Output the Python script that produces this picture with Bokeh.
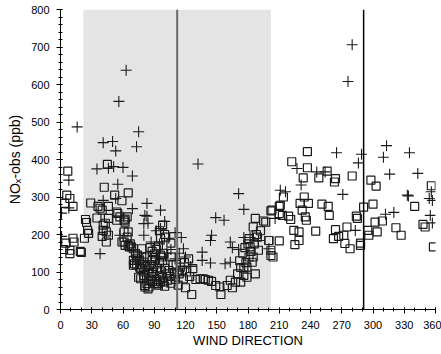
from bokeh.plotting import figure
from bokeh.models import BoxAnnotation, Span, SingleIntervalTicker
from bokeh.embed import file_html
from bokeh.resources import INLINE

# Sector limits (degrees) and reference directions
sector_start = 22
sector_end = 202
ref_dir_a = 112
ref_dir_b = 291

# Series 1 (open squares): wind direction (deg), NOx (ppb)
sq_dir = [3, 5, 9, 9, 12, 13, 19, 20, 4, 6, 9, 12, 7,
          23, 25, 26, 27, 24, 29, 36, 38, 42, 45, 46, 52, 59, 65, 54, 40, 35, 46, 55, 57,
          41, 41, 40, 44, 44, 46, 43, 54, 61, 62, 62, 64, 61, 65, 64, 59, 61, 62, 65, 67,
          66, 68, 70, 72, 73, 70, 71, 73, 70, 76, 77, 75, 77, 80, 80, 81, 81, 83, 85, 84,
          86, 78, 78, 80, 83, 88, 88,
          85, 87, 88, 90, 92, 94, 95, 96, 97, 98, 100, 100, 102, 103, 105, 106, 108, 109,
          110, 112, 113, 86, 89, 91, 93, 95, 97, 99, 84, 82, 80, 78, 76, 74, 86, 88, 90,
          92, 94, 96, 98,
          91, 89, 93, 99, 104, 101, 106, 107, 115, 118, 120, 126, 123, 127, 134, 137, 142,
          149, 154, 153, 160, 165, 163, 168, 173, 173, 176, 179, 181, 179, 185, 182, 181,
          185, 187, 195, 203, 200, 202, 189, 190, 184, 187,
          111, 114, 117, 119, 121, 124, 130, 139, 145, 170, 172, 175, 177, 180, 183, 186,
          188, 192, 178, 176, 95, 98, 100, 96,
          202, 210, 213, 219, 197, 221, 211, 214, 210, 222, 224, 229, 225, 229, 210, 200,
          202, 204, 230, 232, 235, 236, 233, 234, 237, 237, 238, 245, 248, 251, 256, 257,
          258, 262, 263, 264, 264, 267, 272, 273, 275, 278, 280, 284, 285, 288, 288, 291,
          295, 296, 298, 300, 302, 303, 304, 309, 322, 327, 340, 348, 350, 356, 358]
sq_nox = [160, 177, 158, 149, 190, 180, 155, 152, 283, 305, 296, 275, 369,
          190, 232, 211, 203, 240, 284, 275, 270, 326, 387, 275, 305, 290, 311, 260, 265, 244, 243, 256, 247,
          211, 225, 195, 180, 207, 198, 230, 238, 238, 233, 241, 247, 207, 207, 193, 180, 180, 171, 171, 175,
          167, 167, 162, 149, 135, 131, 122, 119, 118, 113, 109, 86, 82, 86, 91, 64, 60, 69, 60, 55,
          78, 140, 162, 126, 140, 131, 100,
          95, 88, 75, 70, 80, 65, 90, 75, 100, 85, 62, 110, 95, 78, 88, 70, 120, 95,
          80, 100, 65, 120, 115, 130, 110, 125, 140, 150, 105, 115, 100, 120, 130, 145, 165, 155, 148,
          160, 170, 145, 130,
          140, 100, 69, 73, 104, 193, 177, 140, 113, 82, 58, 40, 135, 109, 82, 82, 78,
          64, 40, 60, 64, 58, 78, 73, 73, 112, 91, 86, 140, 113, 140, 167, 189,
          220, 243, 236, 265, 184, 158, 193, 158, 126, 95,
          120, 95, 105, 125, 100, 88, 80, 80, 75, 95, 130, 150, 165, 175, 155, 175,
          200, 210, 125, 110, 210, 225, 200, 190,
          263, 256, 251, 249, 233, 240, 278, 300, 275, 394, 211, 207, 173, 184, 183, 184,
          144, 140, 283, 265, 247, 238, 351, 300, 378, 421, 283, 209, 351, 281, 369, 275,
          251, 189, 340, 349, 213, 195, 198, 176, 220, 162, 356, 249, 243, 177, 171, 273,
          211, 198, 345, 281, 233, 329, 207, 236, 218, 198, 275, 227, 220, 330, 167]

# Series 2 (plus markers): wind direction (deg), NOx (ppb)
pl_dir = [16, 63, 56, 41, 50, 53, 75, 73, 35, 46, 51, 60, 69, 55, 8, 8, 1, 1, 83, 83,
          41, 53, 69, 38, 57, 81, 80, 80, 132, 171, 176, 149, 157, 96, 96, 116, 118, 145,
          144, 163, 165, 171, 136, 136, 144, 158, 163, 176, 182, 190, 200, 110,
          84, 92, 100, 104, 95, 102, 110, 87, 106, 114, 120, 125,
          280, 276, 313, 265, 289, 310, 335, 286, 316, 343, 227, 246, 254, 231, 271, 211,
          216, 333, 334, 354, 357, 356, 312, 320, 355, 357, 283, 206]
pl_nox = [487, 638, 555, 445, 448, 423, 474, 434, 375, 377, 381, 379, 356, 334, 345, 271, 257, 195, 283, 249,
          291, 296, 269, 149, 198, 251, 229, 198, 388, 309, 267, 245, 238, 265, 216, 192, 162, 198,
          184, 180, 165, 160, 153, 131, 124, 122, 126, 192, 192, 184, 162, 135,
          230, 210, 235, 190, 175, 150, 205, 180, 160, 150, 140, 115,
          706, 608, 437, 418, 414, 406, 418, 391, 361, 363, 376, 367, 367, 332, 307, 318,
          314, 305, 303, 296, 291, 314, 254, 259, 251, 231, 211, 243]

p = figure(width=441, height=354, x_range=(0, 360), y_range=(0, 800),
           output_backend="svg", toolbar_location=None,
           min_border_left=60, min_border_right=6, min_border_top=9, min_border_bottom=45)
p.outline_line_color = None
p.background_fill_color = "white"
p.border_fill_color = "white"
p.xgrid.visible = False
p.ygrid.visible = False

# Shaded sector and reference directions
p.add_layout(BoxAnnotation(left=sector_start, right=sector_end, fill_color="#e4e4e4",
                           fill_alpha=1.0, line_color=None, level="underlay"))
p.add_layout(Span(location=ref_dir_a, dimension="height", line_color="#6a6a6a", line_width=2))
p.add_layout(Span(location=ref_dir_b, dimension="height", line_color="black", line_width=1.5))

p.scatter(sq_dir, sq_nox, marker="square", size=8, fill_color=None,
          line_color="#1a1a1a", line_width=1.2)
p.scatter(pl_dir, pl_nox, marker="cross", size=11, line_color="#1a1a1a", line_width=1.1)

p.xaxis.ticker = SingleIntervalTicker(interval=30, num_minor_ticks=3)
p.yaxis.ticker = SingleIntervalTicker(interval=100, num_minor_ticks=5)

for ax in (p.xaxis, p.yaxis):
    ax.axis_line_color = "black"
    ax.major_tick_line_color = "black"
    ax.minor_tick_line_color = "black"
    ax.major_tick_out = 4
    ax.major_tick_in = 2
    ax.minor_tick_out = 2
    ax.minor_tick_in = 2
    ax.major_label_text_font = "Liberation Sans"
    ax.major_label_text_font_size = "11px"
    ax.major_label_text_color = "black"
    ax.axis_label_text_font = "Liberation Sans"
    ax.axis_label_text_font_size = "13px"
    ax.axis_label_text_font_style = "normal"
    ax.axis_label_text_color = "black"

p.xaxis.axis_label = "WIND DIRECTION"
p.xaxis.major_label_standoff = 7
p.xaxis.axis_label_standoff = 1
p.yaxis.axis_label = "NOₓ-obs (ppb)"
p.yaxis.axis_label_text_font_size = "14px"
p.yaxis.major_label_standoff = 7
p.yaxis.axis_label_standoff = 5

open("out.html", "w").write(file_html(p, INLINE))
